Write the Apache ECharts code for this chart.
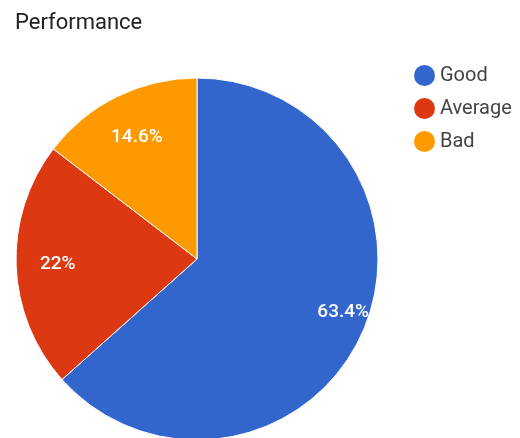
<!DOCTYPE html>
<html>
<head>
<meta charset="utf-8">
<script src="https://cdn.jsdelivr.net/npm/echarts@6/dist/echarts.min.js"></script>
<style>
  html, body { margin: 0; padding: 0; background: #fff; }
  #chart { width: 520px; height: 438px; }
</style>
</head>
<body>
<div id="chart"></div>
<script>
// data
var categories = ['Good', 'Average', 'Bad'];
var shares = [63.4, 22, 14.6];
var colors = ['#3366cc', '#dc3912', '#ff9900'];

var cx = 197, cy = 259, R = 181;
// label placement: fraction of radius, and small turn (degrees) off the slice middle
var labelReach = [0.86, 0.77, 0.75];
var labelTurn = [-4, 0, 0];

var chart = echarts.init(document.getElementById('chart'));

var option = {
  animation: false,
  title: {
    text: 'Performance',
    left: 10,
    top: 7,
    textStyle: {
      fontFamily: 'Roboto',
      fontSize: 22,
      fontWeight: 'normal',
      color: '#222'
    }
  },
  legend: {
    orient: 'vertical',
    left: 409,
    top: 60,
    icon: 'circle',
    itemWidth: 21,
    itemHeight: 21,
    itemGap: 12,
    itemStyle: { borderWidth: 0 },
    textStyle: {
      fontFamily: 'Roboto',
      fontSize: 20,
      color: '#444'
    },
    data: categories
  },
  series: [
    {
      type: 'pie',
      center: [cx, cy],
      radius: [0, R],
      startAngle: 90,
      clockwise: true,
      itemStyle: {
        borderColor: '#fff',
        borderWidth: 1
      },
      label: {
        position: 'inside',
        formatter: '{d}%',
        color: '#fff',
        fontFamily: 'Roboto',
        fontSize: 19,
        fontWeight: 500
      },
      labelLayout: function (p) {
        var r = p.labelRect;
        var lx = r.x + r.width / 2 - cx;
        var ly = r.y + r.height / 2 - cy;
        var a = Math.atan2(ly, lx) + labelTurn[p.dataIndex] * Math.PI / 180;
        var d = labelReach[p.dataIndex] * R;
        return { dx: Math.cos(a) * d - lx, dy: Math.sin(a) * d - ly };
      },
      labelLine: { show: false },
      emphasis: { disabled: true },
      data: categories.map(function (name, i) {
        return { name: name, value: shares[i], itemStyle: { color: colors[i] } };
      })
    }
  ]
};

chart.setOption(option);
</script>
</body>
</html>
